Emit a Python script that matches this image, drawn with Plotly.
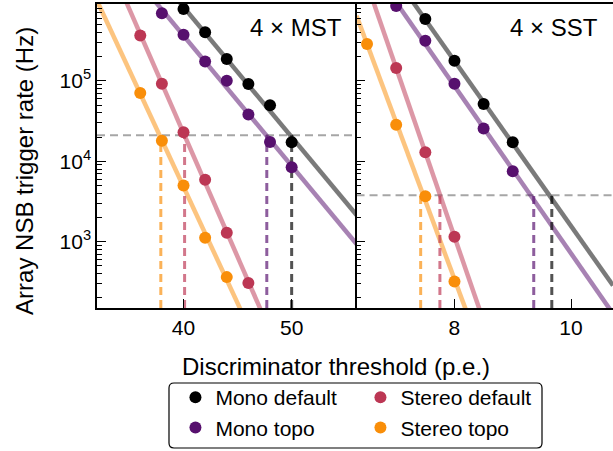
import numpy as np
import plotly.graph_objects as go

# ---------------- data ----------------
series_names = ["Mono default", "Mono topo", "Stereo default", "Stereo topo"]
series_colors = ["#000000", "#57106e", "#bc3754", "#f98e09"]
series_rgb = [(0, 0, 0), (87, 16, 110), (188, 55, 84), (249, 142, 9)]

# 4 x MST
mst_x = [
    [40, 42, 44, 46, 48, 50],
    [38, 40, 42, 44, 46, 48, 50],
    [36, 38, 40, 42, 44, 46],
    [36, 38, 40, 42, 44],
]
mst_rate = [
    [7.8e5, 4.0e5, 1.86e5, 9.1e4, 4.95e4, 1.72e4],
    [6.9e5, 3.73e5, 1.74e5, 1.0e5, 3.8e4, 1.74e4, 8.4e3],
    [3.66e5, 9.2e4, 2.29e4, 5.9e3, 1.29e3, 306],
    [7.07e4, 1.8e4, 5.0e3, 1.12e3, 363],
]
mst_rate_limit = 2.1e4
mst_threshold = [50.0, 47.7, 40.1, 37.9]

# 4 x SST
sst_x = [
    [7.5, 8.0, 8.5, 9.0],
    [7.0, 7.5, 8.0, 8.5, 9.0],
    [7.0, 7.5, 8.0],
    [6.5, 7.0, 7.5, 8.0],
]
sst_rate = [
    [5.85e5, 1.77e5, 5.15e4, 1.72e4],
    [8.5e5, 3.15e5, 9.2e4, 2.55e4, 7.5e3],
    [1.44e5, 1.29e4, 1.15e3],
    [2.86e5, 2.85e4, 3.68e3, 321],
]
sst_rate_limit = 3.78e3
sst_threshold = [9.67, 9.36, 7.75, 7.42]

mst_xrange = [32, 56]
sst_xrange = [6.32, 10.72]
y_min, y_max = 150, 9e5
mst_xticks = [40, 50]
sst_xticks = [8, 10]
y_major = [1e3, 1e4, 1e5]
y_major_text = ["10<sup>3</sup>", "10<sup>4</sup>", "10<sup>5</sup>"]
y_minor = [m * 10 ** e for e in range(2, 6) for m in range(2, 10)]

panel_labels = ["4 × MST", "4 × SST"]
x_title = "Discriminator threshold (p.e.)"
y_title = "Array NSB trigger rate (Hz)"
legend_order = [1, 3, 2, 4]

FONT = "Liberation Sans, Arial, Helvetica, sans-serif"
W, H = 613, 451
ML, MR, MT, MB = 97, 0, 4, 143


def rgba(rgb, a):
    return "rgba(%d,%d,%d,%.2f)" % (rgb[0], rgb[1], rgb[2], a)


fig = go.Figure()

panels = [
    ("x", "y", mst_x, mst_rate, mst_rate_limit, mst_threshold, mst_xrange),
    ("x2", "y2", sst_x, sst_rate, sst_rate_limit, sst_threshold, sst_xrange),
]

# fit lines (least squares in log space, from the points)
for xa, ya, xs, rs, lim, thr, xr in panels:
    for i in range(4):
        k, b = np.polyfit(np.array(xs[i], float), np.log10(rs[i]), 1)
        fx = np.array(xr, float)
        fig.add_trace(go.Scatter(
            x=fx, y=10 ** (k * fx + b), mode="lines", xaxis=xa, yaxis=ya,
            line=dict(color=rgba(series_rgb[i], 0.52), width=4.5),
            showlegend=False, hoverinfo="skip"))

# threshold markers (vertical dashed lines)
for xa, ya, xs, rs, lim, thr, xr in panels:
    for i in range(4):
        fig.add_trace(go.Scatter(
            x=[thr[i], thr[i]], y=[y_min, lim], mode="lines", xaxis=xa, yaxis=ya,
            line=dict(color=rgba(series_rgb[i], 0.68), width=3, dash="8px,5px"),
            showlegend=False, hoverinfo="skip"))

# horizontal rate limits
for xa, ya, xs, rs, lim, thr, xr in panels:
    fig.add_shape(type="line", xref=xa + " domain", yref=ya, x0=0, x1=1,
                  y0=lim, y1=lim, layer="below",
                  line=dict(color="rgba(0,0,0,0.35)", width=2, dash="8px,5px"))

# points
for p, (xa, ya, xs, rs, lim, thr, xr) in enumerate(panels):
    for i in range(4):
        fig.add_trace(go.Scatter(
            x=xs[i], y=rs[i], mode="markers", xaxis=xa, yaxis=ya,
            name=series_names[i], legendgroup=series_names[i],
            legendrank=legend_order[i],
            showlegend=(p == 0),
            marker=dict(color=series_colors[i], size=12, line=dict(width=0))))

axis_common = dict(
    showline=True, linecolor="black", linewidth=1.5,
    ticks="inside", ticklen=9, tickwidth=1.2, tickcolor="black",
    showgrid=False, zeroline=False, automargin=False,
    tickfont=dict(family=FONT, size=21, color="black"),
)
minor_y = dict(tickvals=y_minor, ticklen=5, ticks="inside",
               tickcolor="black", tickwidth=1)

split = 0.503
fig.update_layout(
    width=W, height=H,
    margin=dict(l=ML, r=MR, t=MT, b=MB, autoexpand=False),
    paper_bgcolor="white", plot_bgcolor="white",
    font=dict(family=FONT, color="black"),
    xaxis=dict(domain=[0, split], range=mst_xrange, tickvals=mst_xticks,
               anchor="y", mirror=True, **axis_common),
    xaxis2=dict(domain=[split, 1], range=sst_xrange, tickvals=sst_xticks,
                anchor="y2", mirror=True, **axis_common),
    yaxis=dict(type="log", range=[np.log10(y_min), np.log10(y_max)],
               tickvals=y_major, ticktext=y_major_text, anchor="x",
               minor=minor_y, **axis_common),
    yaxis2=dict(type="log", range=[np.log10(y_min), np.log10(y_max)],
                tickvals=y_major, showticklabels=False, anchor="x2",
                minor=minor_y, **axis_common),
    showlegend=True,
    legend=dict(orientation="h", xref="container", yref="container",
                x=0.588, xanchor="center", y=0.164, yanchor="top",
                entrywidth=140, entrywidthmode="pixels",
                bordercolor="rgba(0,0,0,0)", borderwidth=0,
                bgcolor="rgba(0,0,0,0)",
                font=dict(family=FONT, size=21, color="black"),
                traceorder="normal"),
)


# rounded legend frame (pixel box -> paper coordinates)
def px2paper(px, py):
    return (px - ML) / (W - ML - MR), (H - MB - py) / (H - MT - MB)


bx0, by0, bx1, by1, rad = 169, 383, 542, 448, 5
pts = []
segs = [
    ("M", bx0 + rad, by0), ("L", bx1 - rad, by0), ("Q", bx1, by0, bx1, by0 + rad),
    ("L", bx1, by1 - rad), ("Q", bx1, by1, bx1 - rad, by1),
    ("L", bx0 + rad, by1), ("Q", bx0, by1, bx0, by1 - rad),
    ("L", bx0, by0 + rad), ("Q", bx0, by0, bx0 + rad, by0),
]
path = ""
for s in segs:
    cmd = s[0]
    coords = []
    for j in range(1, len(s), 2):
        u, v = px2paper(s[j], s[j + 1])
        coords.append("%.5f,%.5f" % (u, v))
    path += cmd + " ".join(coords) + " "
path += "Z"
fig.add_shape(type="path", xref="paper", yref="paper", path=path,
              line=dict(color="black", width=1.2), fillcolor="rgba(0,0,0,0)")

# panel labels
for xa, lab in zip(["x", "x2"], panel_labels):
    fig.add_annotation(text=lab, xref=xa + " domain", yref="y domain",
                       x=1, y=1, xanchor="right", yanchor="top",
                       xshift=-13, yshift=-8, showarrow=False,
                       font=dict(family=FONT, size=24, color="black"))

# axis titles
fig.add_annotation(text=x_title, xref="paper", yref="paper", x=0.463, y=-0.142,
                   xanchor="center", yanchor="top", showarrow=False,
                   font=dict(family=FONT, size=24, color="black"))
fig.add_annotation(text=y_title, xref="paper", yref="paper", x=-0.142, y=0.45,
                   xanchor="center", yanchor="middle", textangle=-90,
                   showarrow=False,
                   font=dict(family=FONT, size=24, color="black"))

fig.write_html("out.html",
               config={"displayModeBar": False},
               post_script="document.body.style.margin='0';"
                           "document.body.style.padding='0';")
